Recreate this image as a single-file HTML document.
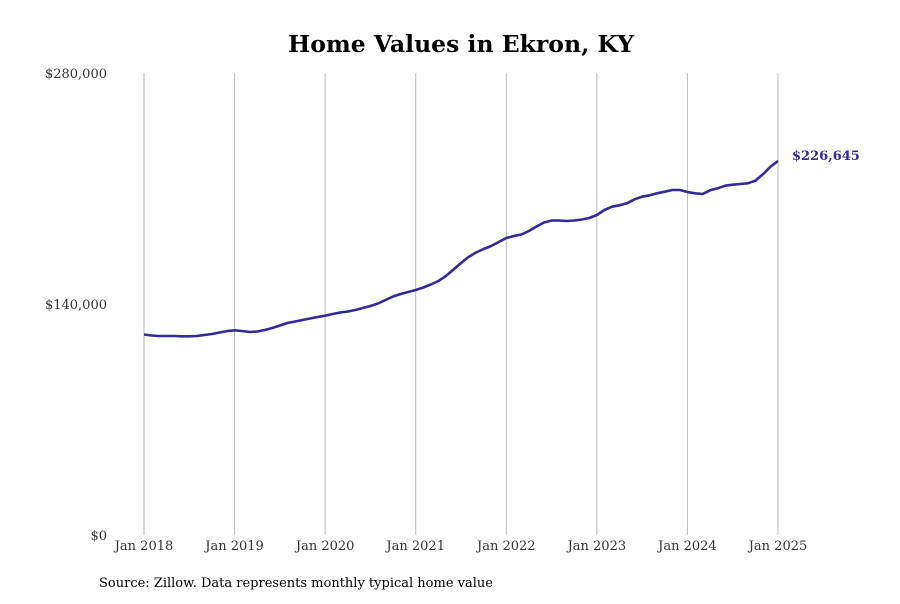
<!DOCTYPE html>
<html><head><meta charset="utf-8"><style>
body{margin:0;background:#fff;font-family:"DejaVu Serif",serif}
svg text{font-family:"DejaVu Serif","Liberation Serif",serif}
</style></head><body>
<svg width="900" height="600" xmlns="http://www.w3.org/2000/svg">
<text x="461" y="52" text-anchor="middle" font-size="23.5" font-weight="bold">Home Values in Ekron, KY</text>
<g id="grid"></g><g id="yaxis"></g><g id="xaxis"></g>
<path id="line" fill="none" stroke="#332a96" stroke-width="2.6" stroke-linejoin="round"/>
<text id="lastlabel" font-size="13" font-weight="bold" fill="#332a96"></text>
<text x="99" y="587" font-size="13">Source: Zillow. Data represents monthly typical home value</text>
</svg>
<script>
const yTicks=[0,140000,280000];
const yTickLabels=["$0","$140,000","$280,000"];
const xTickLabels=["Jan 2018","Jan 2019","Jan 2020","Jan 2021","Jan 2022","Jan 2023","Jan 2024","Jan 2025"];
const values=[121500,120900,120600,120600,120600,120400,120400,120600,121200,121800,122700,123600,
124060,123636,123030,123333,124242,125454,126970,128485,129394,130303,131212,132121,
132909,133939,134848,135454,136364,137576,138788,140303,142424,144545,146060,147273,
148485,150000,151818,153939,156970,160909,164848,168485,171212,173333,175151,177576,
180000,181212,182121,184242,186970,189394,190606,190606,190303,190606,191212,192121,
193939,196970,198970,199818,201030,203454,205030,205879,207091,208061,209091,209091,
207879,207091,206667,208909,210121,211697,212303,212727,213151,214727,218606,223212,
226645];
const lastLabel="$226,645";
const x0=144,x1=778,yB=535,yT=73;
const xs=i=>x0+(x1-x0)*i/(values.length-1);
const ys=v=>yB-(yB-yT)*v/280000;
const NS="http://www.w3.org/2000/svg";
const grid=document.getElementById('grid'),ya=document.getElementById('yaxis'),xa=document.getElementById('xaxis');
xTickLabels.forEach((l,k)=>{
 const x=xs(k*12);
 const ln=document.createElementNS(NS,'line');
 ln.setAttribute('x1',x);ln.setAttribute('x2',x);ln.setAttribute('y1',yT);ln.setAttribute('y2',yB);
 ln.setAttribute('stroke','#bbb');ln.setAttribute('stroke-width','1');
 
 
 grid.appendChild(ln);
 const t=document.createElementNS(NS,'text');
 t.setAttribute('x',x);t.setAttribute('y',yB+15);t.setAttribute('text-anchor','middle');t.setAttribute('font-size','13');t.setAttribute('fill','#333');
 t.textContent=l;
 
 
 xa.appendChild(t);
});
yTicks.forEach((v,k)=>{
 const t=document.createElementNS(NS,'text');
 t.setAttribute('x',107);t.setAttribute('y',ys(v)+5);t.setAttribute('text-anchor','end');t.setAttribute('font-size','13');t.setAttribute('fill','#333');
 t.textContent=yTickLabels[k];
 
 
 ya.appendChild(t);
});
document.getElementById('line').setAttribute('d',values.map((v,i)=>(i?'L':'M')+xs(i).toFixed(1)+','+ys(v).toFixed(1)).join(''));
const ll=document.getElementById('lastlabel');
ll.setAttribute('x',xs(values.length-1)+14);ll.setAttribute('y',ys(values[values.length-1])-1);
ll.textContent=lastLabel;
</script>
</body></html>
